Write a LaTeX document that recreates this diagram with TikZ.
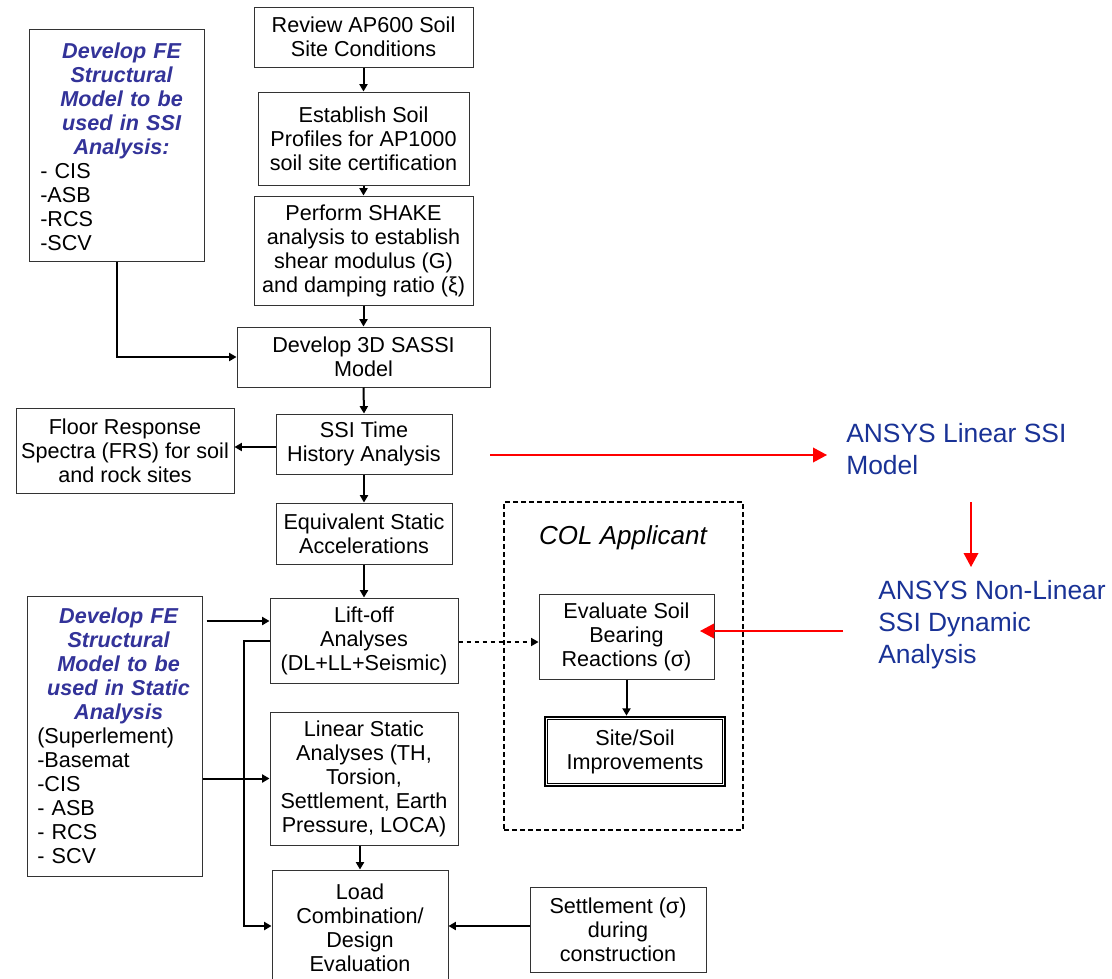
\documentclass[tikz,border=0pt]{standalone}
\usepackage{fontspec}
\setmainfont{Liberation Sans}
\usetikzlibrary{arrows.meta}
\definecolor{hdrblue}{RGB}{51,51,153}
\definecolor{ansysblue}{RGB}{25,50,150}
\begin{document}
\begin{tikzpicture}[x=0.75pt,y=-0.75pt,
  box/.style={draw=black!80, line width=0.75pt, inner sep=0pt, align=center,
    font=\fontsize{16.2}{18}\selectfont},
  conn/.style={line width=1.5pt, -{Triangle[length=5.5pt,width=6pt]}},
  dconn/.style={line width=1.1pt, dash pattern=on 3.5pt off 2.5pt, -{Triangle[length=5.5pt,width=6pt]}},
  redarr/.style={red, line width=1.1pt, -{Triangle[length=10.5pt,width=11pt]}},
  ansys/.style={text=ansysblue, align=left, anchor=west, inner sep=0pt,
    font=\fontsize{19.8}{24}\selectfont},
  listtext/.style={anchor=west, inner sep=0pt, text width=122pt, align=left,
    font=\fontsize{16.2}{18}\selectfont}
]
\clip (0,0) rectangle (1112,978);
\fill[white] (0,0) rectangle (1112,978);

% helper coordinates
\coordinate (c447) at (0,447);
\coordinate (c621) at (0,621);
\coordinate (c642) at (0,642);
\coordinate (c926) at (0,926);
\coordinate (loopx) at (244,0);

% main column
\node[box, minimum width=219*0.75pt, minimum height=60*0.75pt] (review) at (363.5,37)
  {Review AP600 Soil\\Site Conditions};
\node[box, minimum width=211*0.75pt, minimum height=93*0.75pt] (establish) at (363.5,138.5)
  {Establish Soil\\Profiles for AP1000\\soil site certification};
\node[box, minimum width=219*0.75pt, minimum height=109*0.75pt] (shake) at (363.5,250.5)
  {Perform SHAKE\\analysis to establish\\shear modulus (G)\\and damping ratio (ξ)};
\node[box, minimum width=253*0.75pt, minimum height=60*0.75pt] (sassi) at (363.5,357)
  {Develop 3D SASSI\\Model};
\node[box, minimum width=176*0.75pt, minimum height=60*0.75pt] (ssi) at (364,444)
  {SSI Time\\History Analysis};
\node[box, minimum width=218*0.75pt, minimum height=85*0.75pt] (frs) at (125,450.5)
  {Floor Response\\Spectra (FRS) for soil\\and rock sites};
\node[box, minimum width=176*0.75pt, minimum height=61*0.75pt] (equiv) at (364,533.5)
  {Equivalent Static\\Accelerations};
\node[box, minimum width=188*0.75pt, minimum height=85*0.75pt] (lift) at (364,640.5)
  {Lift-off\\Analyses\\(DL+LL+Seismic)};
\node[box, minimum width=188*0.75pt, minimum height=133*0.75pt] (linear) at (364,778.5)
  {Linear Static\\Analyses (TH,\\Torsion,\\Settlement, Earth\\Pressure, LOCA)};
\node[box, minimum width=176*0.75pt, minimum height=116*0.75pt] (load) at (360,928)
  {Load\\Combination/\\Design\\Evaluation};
\node[box, minimum width=176*0.75pt, minimum height=85*0.75pt] (settle) at (618,929.5)
  {Settlement (σ)\\during\\construction};

% COL applicant group
\node[draw, line width=1.1pt, dash pattern=on 3.5pt off 2.5pt, minimum width=239*0.75pt,
  minimum height=328*0.75pt, inner sep=0pt] (col) at (623.5,666) {};
\node[inner sep=0pt, font=\fontsize{19.5}{22}\selectfont\itshape] (coltitle) at (623,538) {COL Applicant};
\node[box, minimum width=175*0.75pt, minimum height=85*0.75pt] (eval) at (626.5,636.5)
  {Evaluate Soil\\Bearing\\Reactions (σ)};
\node[box, draw=black, line width=2pt, minimum width=180*0.75pt, minimum height=69*0.75pt] (site) at (635,751.5)
  {Site/Soil\\Improvements};
\draw[line width=0.6pt] ([shift={(2.6pt,-2.6pt)}]site.north west) rectangle ([shift={(-2.6pt,2.6pt)}]site.south east);

% left FE model boxes
\node[draw=black!80, line width=0.75pt, minimum width=175*0.75pt, minimum height=232*0.75pt, inner sep=0pt]
  (fe1) at (116.5,145) {};
\node[listtext] (fe1t) at (40,147)
  {{\centering\color{hdrblue}\bfseries\itshape Develop FE\\Structural\\Model to be\\used in SSI\\Analysis:\par}
   - CIS\\-ASB\\-RCS\\-SCV};
\node[draw=black!80, line width=0.75pt, minimum width=175*0.75pt, minimum height=280*0.75pt, inner sep=0pt]
  (fe2) at (114.5,736) {};
\node[listtext] (fe2t) at (37,736)
  {{\centering\color{hdrblue}\bfseries\itshape Develop FE\\Structural\\Model to be\\used in Static\\Analysis\par}
   (Superlement)\\-Basemat\\-CIS\\- ASB\\- RCS\\- SCV};

% ANSYS texts
\node[ansys] (ans1) at (846,449) {ANSYS Linear SSI\\Model};
\node[ansys] (ans2) at (878,625) {ANSYS Non-Linear\\SSI Dynamic\\Analysis};

% black connectors
\draw[conn] (review.south) -- (establish.north);
\draw[conn] (establish.south) -- (shake.north);
\draw[conn] (shake.south) -- (sassi.north);
\draw[conn] (sassi.south) -- (ssi.north);
\draw[conn] (fe1.south) |- (sassi.west);
\draw[conn] (ssi.west |- c447) -- (frs.east |- c447);
\draw[conn] (ssi.south) -- (equiv.north);
\draw[conn] (equiv.south) -- (lift.north);
\draw[conn] ([xshift=3pt]fe2.east |- c621) -- (lift.west |- c621);
\draw[conn] (fe2.east |- linear.west) -- (linear.west);
\draw[conn] (lift.west) -- (loopx |- lift.west) -- (loopx |- c926) -- (load.west |- c926);
\draw[conn] (load.north |- linear.south) -- (load.north);
\draw[conn] (settle.west |- c926) -- (load.east |- c926);
\draw[dconn] (lift.east |- c642) -- (eval.west |- c642);
\draw[conn] (eval.south) -- (eval.south |- site.north);

% red connectors
\coordinate (r1s) at (490,455);
\coordinate (r1e) at (827,455);
\coordinate (r2s) at (971,502);
\coordinate (r2e) at (971,567);
\coordinate (r3s) at (843,631);
\coordinate (r3e) at (700,631);
\draw[redarr] (r1s) -- (r1e);
\draw[redarr] (r2s) -- (r2e);
\draw[redarr] (r3s) -- (r3e);
\end{tikzpicture}
\end{document}
